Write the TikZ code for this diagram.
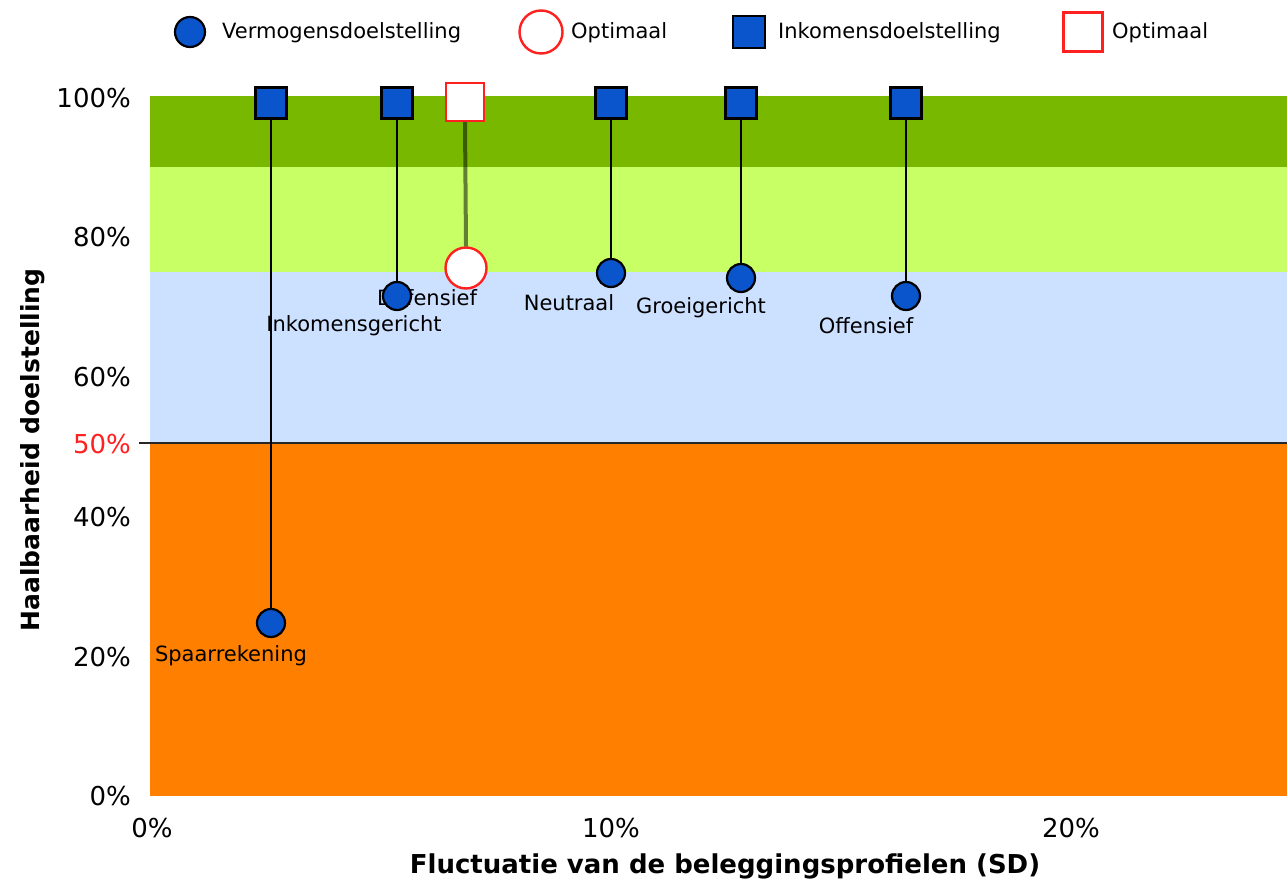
\documentclass[tikz,border=0pt]{standalone}
\usepackage{fontspec}
\setmainfont{DejaVu Sans}
\usetikzlibrary{shapes.geometric}
\definecolor{bandA}{HTML}{78B800}
\definecolor{bandB}{HTML}{C8FF64}
\definecolor{bandC}{HTML}{CCE0FF}
\definecolor{bandD}{HTML}{FF7F00}
\definecolor{mblue}{HTML}{0A55CC}
\definecolor{mred}{HTML}{FF2020}
\tikzset{
  goalc/.style={circle, draw=black, line width=2.2pt, fill=mblue, minimum size=28pt, inner sep=0pt},
  goals/.style={rectangle, draw=black, line width=2.2pt, fill=mblue, minimum size=31pt, inner sep=0pt},
  optc/.style={circle, draw=mred, line width=2.4pt, fill=white, minimum size=41pt, inner sep=0pt},
  opts/.style={rectangle, draw=mred, line width=2.4pt, fill=white, minimum size=38pt, inner sep=0pt},
  stem/.style={draw=black, line width=2.8pt},
  optstem/.style={draw=black, draw opacity=0.5, line width=4pt},
  lbl/.style={font=\fontsize{21}{24}\selectfont, inner sep=0pt},
  tick/.style={font=\fontsize{26}{29}\selectfont, inner sep=0pt},
  axtitle/.style={font=\bfseries\fontsize{26}{30}\selectfont, inner sep=0pt},
}
\begin{document}
\begin{tikzpicture}[x=1pt, y=-1pt]
\useasboundingbox[fill=white] (0,0) rectangle (1287,882);

% coloured bands of the plot area
\fill[bandA] (150,96) rectangle (1287,167);
\fill[bandB] (150,167) rectangle (1287,272);
\fill[bandC] (150,272) rectangle (1287,443);
\fill[bandD] (150,443) rectangle (1287,796);
\draw[line width=2.6pt, draw=black!85] (139,443) -- (1287,443);

% y tick labels
\node[tick, anchor=east] (y100) at (131,98) {100\%};
\node[tick, anchor=east] (y80) at (131,237) {80\%};
\node[tick, anchor=east] (y60) at (131,377) {60\%};
\node[tick, anchor=east, text=mred] (y50) at (131,444) {50\%};
\node[tick, anchor=east] (y40) at (131,517) {40\%};
\node[tick, anchor=east] (y20) at (131,657) {20\%};
\node[tick, anchor=east] (y0) at (131,796) {0\%};

% x tick labels
\node[tick] (x0) at (152,828) {0\%};
\node[tick] (x10) at (611,828) {10\%};
\node[tick] (x20) at (1071,828) {20\%};

% axis titles
\node[axtitle] (xt) at (725,866) {Fluctuatie van de beleggingsprofielen (SD)};
\node[axtitle, font=\bfseries\fontsize{25}{29}\selectfont, rotate=90] (yt) at (33,450) {Haalbaarheid doelstelling};

% legend
\node[goalc, minimum size=30pt] (lg1) at (190,32) {};
\node[lbl, anchor=west] (lt1) at (222,33) {Vermogensdoelstelling};
\node[optc, minimum size=43pt] (lg2) at (541,32) {};
\node[lbl, anchor=west] (lt2) at (571,33) {Optimaal};
\node[goals, minimum size=32pt] (lg3) at (749,32) {};
\node[lbl, anchor=west] (lt3) at (778,33) {Inkomensdoelstelling};
\node[opts, minimum size=39pt] (lg4) at (1083,32) {};
\node[lbl, anchor=west] (lt4) at (1112,33) {Optimaal};

% profile labels
\node[lbl] (l1) at (231,656) {Spaarrekening};
\node[lbl] (l2) at (354,326) {Inkomensgericht};
\node[lbl] (l3) at (427,298) {Defensief};
\node[lbl] (l4) at (569,303) {Neutraal};
\node[lbl] (l5) at (701,308) {Groeigericht};
\node[lbl] (l6) at (866,326) {Offensief};

% markers: income goal (squares) and wealth goal (circles)
\node[goals] (s1) at (271,103) {};
\node[goalc] (c1) at (271,623) {};
\node[goals] (s2) at (397,103) {};
\node[goalc] (c2) at (397,296) {};
\node[opts] (s3) at (465,102) {};
\node[optc] (c3) at (466,268) {};
\node[goals] (s4) at (611,103) {};
\node[goalc] (c4) at (611,273) {};
\node[goals] (s5) at (741,103) {};
\node[goalc] (c5) at (741,278) {};
\node[goals] (s6) at (906,103) {};
\node[goalc] (c6) at (906,296) {};

% stems between the two goals of each profile
\draw[stem] (s1) -- (c1);
\draw[stem] (s2) -- (c2);
\draw[optstem] (s3.south) -- (c3.north);
\draw[stem] (s4) -- (c4);
\draw[stem] (s5) -- (c5);
\draw[stem] (s6) -- (c6);
\end{tikzpicture}
\end{document}
